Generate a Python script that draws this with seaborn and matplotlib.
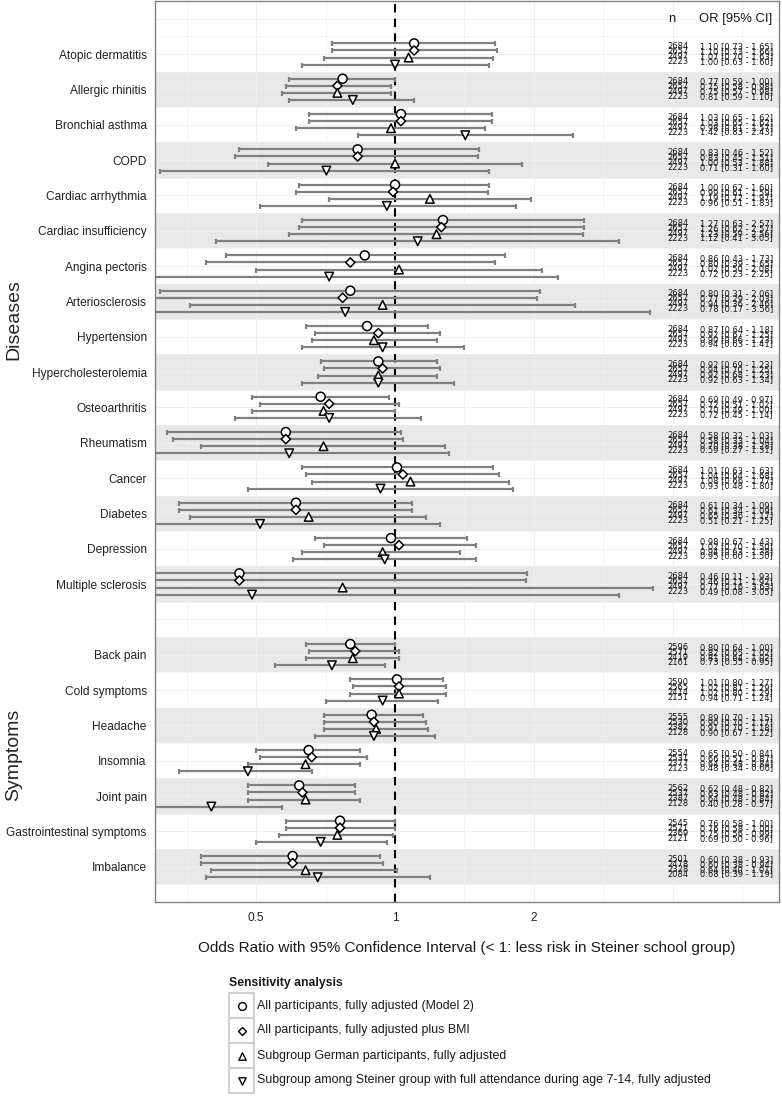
import numpy as np
import pandas as pd
import matplotlib
matplotlib.use("Agg")
import matplotlib.pyplot as plt
import seaborn as sns

# ── Data ─────────────────────────────────────────────────────────────────────
diseases = ["Atopic dermatitis", "Allergic rhinitis", "Bronchial asthma", "COPD",
            "Cardiac arrhythmia", "Cardiac insufficiency", "Angina pectoris",
            "Arteriosclerosis", "Hypertension", "Hypercholesterolemia",
            "Osteoarthritis", "Rheumatism", "Cancer", "Diabetes", "Depression",
            "Multiple sclerosis"]
symptoms = ["Back pain", "Cold symptoms", "Headache", "Insomnia", "Joint pain",
            "Gastrointestinal symptoms", "Imbalance"]

models = ["All participants, fully adjusted (Model 2)",
          "All participants, fully adjusted plus BMI",
          "Subgroup German participants, fully adjusted",
          "Subgroup among Steiner group with full attendance during age 7-14, fully adjusted"]

# model 1: all participants, fully adjusted
n_m1  = [2684] * 16 + [2596, 2590, 2555, 2554, 2562, 2545, 2501]
or_m1 = [1.10, 0.77, 1.03, 0.83, 1.00, 1.27, 0.86, 0.80, 0.87, 0.92, 0.69, 0.58, 1.01, 0.61, 0.98, 0.46,
         0.80, 1.01, 0.89, 0.65, 0.62, 0.76, 0.60]
lo_m1 = [0.73, 0.59, 0.65, 0.46, 0.62, 0.63, 0.43, 0.31, 0.64, 0.69, 0.49, 0.32, 0.63, 0.34, 0.67, 0.11,
         0.64, 0.80, 0.70, 0.50, 0.48, 0.58, 0.38]
hi_m1 = [1.65, 1.00, 1.62, 1.52, 1.60, 2.57, 1.73, 2.06, 1.18, 1.23, 0.97, 1.03, 1.63, 1.09, 1.43, 1.93,
         1.00, 1.27, 1.15, 0.84, 0.82, 1.00, 0.93]

# model 2: plus BMI
n_m2  = [2657] * 16 + [2571, 2565, 2530, 2531, 2537, 2521, 2478]
or_m2 = [1.10, 0.75, 1.03, 0.83, 0.99, 1.26, 0.80, 0.77, 0.92, 0.94, 0.72, 0.58, 1.04, 0.61, 1.02, 0.46,
         0.82, 1.02, 0.90, 0.66, 0.63, 0.76, 0.60]
lo_m2 = [0.73, 0.58, 0.65, 0.45, 0.61, 0.62, 0.39, 0.29, 0.67, 0.70, 0.51, 0.33, 0.64, 0.34, 0.70, 0.11,
         0.65, 0.81, 0.70, 0.51, 0.48, 0.58, 0.38]
hi_m2 = [1.66, 0.98, 1.62, 1.51, 1.59, 2.57, 1.65, 2.03, 1.25, 1.25, 1.02, 1.04, 1.68, 1.09, 1.50, 1.92,
         1.02, 1.29, 1.17, 0.87, 0.82, 1.00, 0.94]

# model 3: German participants
n_m3  = [2497] * 16 + [2419, 2414, 2382, 2377, 2387, 2369, 2328]
or_m3 = [1.07, 0.75, 0.98, 1.00, 1.19, 1.23, 1.02, 0.94, 0.90, 0.92, 0.70, 0.70, 1.08, 0.65, 0.94, 0.77,
         0.81, 1.02, 0.91, 0.64, 0.64, 0.75, 0.64]
lo_m3 = [0.70, 0.57, 0.61, 0.53, 0.72, 0.59, 0.50, 0.36, 0.66, 0.68, 0.49, 0.38, 0.66, 0.36, 0.63, 0.16,
         0.64, 0.80, 0.70, 0.48, 0.48, 0.56, 0.40]
hi_m3 = [1.63, 0.98, 1.57, 1.88, 1.97, 2.56, 2.08, 2.46, 1.23, 1.23, 1.00, 1.28, 1.77, 1.17, 1.38, 3.63,
         1.02, 1.29, 1.18, 0.84, 0.84, 0.99, 1.01]

# model 4: full attendance age 7-14
n_m4  = [2223] * 16 + [2161, 2151, 2128, 2123, 2128, 2121, 2084]
or_m4 = [1.00, 0.81, 1.42, 0.71, 0.96, 1.12, 0.72, 0.78, 0.94, 0.92, 0.72, 0.59, 0.93, 0.51, 0.95, 0.49,
         0.73, 0.94, 0.90, 0.48, 0.40, 0.69, 0.68]
lo_m4 = [0.63, 0.59, 0.83, 0.31, 0.51, 0.41, 0.23, 0.17, 0.63, 0.63, 0.45, 0.27, 0.48, 0.21, 0.60, 0.08,
         0.55, 0.71, 0.67, 0.34, 0.28, 0.50, 0.39]
hi_m4 = [1.60, 1.10, 2.43, 1.60, 1.83, 3.05, 2.25, 3.56, 1.41, 1.34, 1.14, 1.31, 1.80, 1.25, 1.50, 3.05,
         0.95, 1.24, 1.22, 0.66, 0.57, 0.96, 1.19]

x_ticks = [0.5, 1, 2]
x_tick_labels = ["0.5", "1", "2"]

# ── Styling ──────────────────────────────────────────────────────────────────
sns.set_style("white")
plt.rcParams["font.family"] = ["Liberation Sans", "DejaVu Sans"]
NARROW = ["Liberation Sans Narrow", "DejaVu Sans"]

shapes  = ["o", "D", "^", "v"]
msizes  = [42, 22, 38, 38]
dodge   = [-0.3, -0.1, 0.1, 0.3]
txt_off = [-0.21, -0.07, 0.07, 0.21]

conditions = diseases + symptoms
row_pos = list(range(1, len(diseases) + 1)) + \
          list(range(len(diseases) + 2, len(diseases) + 2 + len(symptoms)))

frames = []
for m, (name, n_, o_, l_, h_) in enumerate(zip(models,
                                              [n_m1, n_m2, n_m3, n_m4],
                                              [or_m1, or_m2, or_m3, or_m4],
                                              [lo_m1, lo_m2, lo_m3, lo_m4],
                                              [hi_m1, hi_m2, hi_m3, hi_m4])):
    frames.append(pd.DataFrame({
        "model": name,
        "condition": conditions,
        "row": row_pos,
        "y": np.array(row_pos) + dodge[m],
        "ty": np.array(row_pos) + txt_off[m],
        "n": n_, "or_": o_, "lo": l_, "hi": h_,
    }))
df = pd.concat(frames, ignore_index=True)

# ── Figure ───────────────────────────────────────────────────────────────────
W, H = 782, 1100
fig = plt.figure(figsize=(W / 100, H / 100), dpi=100)
ax = fig.add_axes([155 / W, 1 - 902 / H, (779 - 155) / W, (902 - 1) / H])
ax.set_xscale("log")
ax.set_xlim(0.302, 6.79)
ax.set_ylim(25.0, -0.5)

# shaded bands every other row
for r in [p for p in row_pos if p % 2 == 0]:
    ax.axhspan(r - 0.5, r + 0.5, color="#E8E8E8", lw=0, zorder=0.3)

# grid (major + minor)
for k in range(-4, 6):
    ax.axvline(2 ** (k / 2), color="#EFEFEF", lw=0.8 if k % 2 == 0 else 0.5, zorder=0.5)
for yy in np.arange(0, 25, 0.5):
    ax.axhline(yy, color="#EFEFEF", lw=0.8 if yy % 1 == 0 else 0.5, zorder=0.5)

ax.axvline(1, color="black", lw=1.5, ls=(0, (4, 3)), zorder=1.5)

ax.errorbar(df["or_"], df["y"], xerr=[df["or_"] - df["lo"], df["hi"] - df["or_"]],
            fmt="none", ecolor="#808080", elinewidth=1.6, capsize=1.8, capthick=1.6, zorder=2)

sns.scatterplot(data=df, x="or_", y="y", style="model", markers=dict(zip(models, shapes)),
                size="model", sizes=dict(zip(models, msizes)), color="white",
                edgecolor="black", linewidth=1.1, legend=False, ax=ax, zorder=3)

# n and OR text columns
for _, r in df.iterrows():
    ax.text(4.1, r["ty"], f"{int(r['n'])}", ha="center", va="center",
            fontsize=6.0, family=NARROW, color="#1a1a1a", zorder=4)
    ax.text(5.5, r["ty"], f"{r['or_']:.2f} [{r['lo']:.2f} - {r['hi']:.2f}]",
            ha="center", va="center", fontsize=6.0, family=NARROW, color="#1a1a1a", zorder=4)
ax.text(3.98, 0, "n", ha="center", va="center", fontsize=9.4, color="#1a1a1a")
ax.text(5.48, 0, "OR [95% CI]", ha="center", va="center", fontsize=9.4, color="#1a1a1a")

# axes
ax.set_yticks(row_pos)
ax.set_yticklabels(conditions)
ax.set_xticks(x_ticks)
ax.set_xticklabels(x_tick_labels)
ax.xaxis.set_minor_locator(matplotlib.ticker.NullLocator())
ax.tick_params(axis="both", which="major", length=4, width=1.2, color="#333333",
               labelsize=8.6, labelcolor="#222222", pad=2)
ax.tick_params(axis="x", pad=3)
ax.set_xlabel("")
ax.set_ylabel("")
for s in ax.spines.values():
    s.set_color("#808080")
    s.set_linewidth(1.0)

fig.text(467 / W, 1 - 948 / H,
         "Odds Ratio with 95% Confidence Interval (< 1: less risk in Steiner school group)",
         ha="center", va="center", fontsize=11, color="#1a1a1a")
fig.text(14 / W, 1 - 320 / H, "Diseases", rotation=90, ha="center", va="center", fontsize=14)
fig.text(14 / W, 1 - 755 / H, "Symptoms", rotation=90, ha="center", va="center", fontsize=14)

# ── Legend (drawn in pixel coordinates) ──────────────────────────────────────
lax = fig.add_axes([0, 0, 1, 1], frameon=False)
lax.set_xlim(0, W)
lax.set_ylim(H, 0)
lax.set_axis_off()
lax.text(229, 983, "Sensitivity analysis", fontsize=8.8, fontweight="bold",
         ha="left", va="center", color="#1a1a1a")
for k, (name, shp) in enumerate(zip(models, shapes)):
    y0 = 993 + 25 * k
    lax.add_patch(plt.Rectangle((229, y0), 25, 25, facecolor="white",
                                edgecolor="#D0D0D0", lw=1.5))
    lax.scatter([241.5], [y0 + 12.5], marker=shp, s=msizes[k] * 0.75, facecolor="white",
                edgecolor="black", linewidth=1.0)
    lax.text(257, y0 + 12.5, name, fontsize=8.9, ha="left", va="center", color="#1a1a1a")

fig.savefig("out.png", dpi=100)
